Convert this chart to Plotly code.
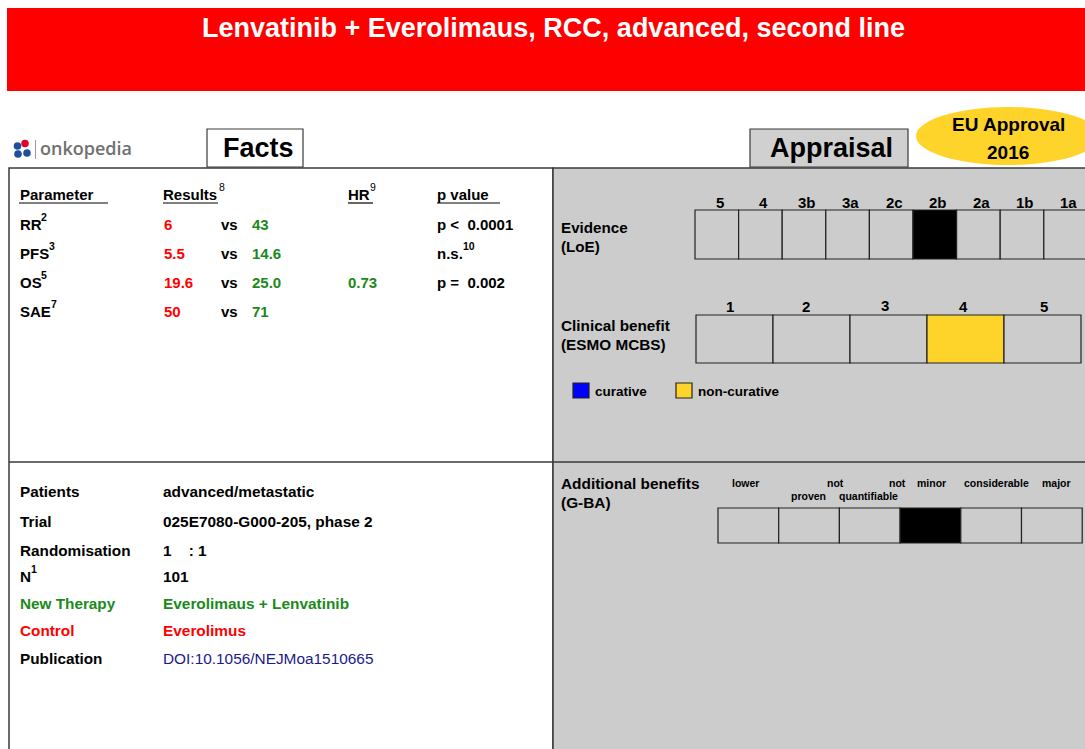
import plotly.graph_objects as go

W, H = 1085, 749
FONT = "Liberation Sans, Arial, sans-serif"

# ---------------- data ----------------
title = "Lenvatinib + Everolimaus, RCC, advanced, second line"
approval = ["EU Approval", "2016"]

fact_headers = ["Parameter", "Results", "HR", "p value"]
fact_header_sup = ["", "8", "9", ""]
params = ["RR", "PFS", "OS", "SAE"]
param_sup = ["2", "3", "5", "7"]
control_vals = ["6", "5.5", "19.6", "50"]
new_vals = ["43", "14.6", "25.0", "71"]
hr_vals = ["", "", "0.73", ""]
p_vals = ["p <  0.0001", "n.s.", "p =  0.002", ""]
p_sup = ["", "10", "", ""]

info_labels = ["Patients", "Trial", "Randomisation", "N", "New Therapy", "Control", "Publication"]
info_label_sup = ["", "", "", "1", "", "", ""]
info_values = ["advanced/metastatic", "025E7080-G000-205, phase 2", "1    : 1", "101",
               "Everolimaus + Lenvatinib", "Everolimus", "DOI:10.1056/NEJMoa1510665"]
info_kind = ["plain", "plain", "plain", "plain", "new", "control", "link"]

loe_levels = ["5", "4", "3b", "3a", "2c", "2b", "2a", "1b", "1a"]
loe_selected = "2b"
esmo_levels = ["1", "2", "3", "4", "5"]
esmo_selected = "4"
esmo_legend = ["curative", "non-curative"]
gba_line1 = ["lower", "not", "not", "minor", "considerable", "major"]
gba_line2 = ["", "proven", "quantifiable", "", "", ""]
gba_selected = "minor"

# ---------------- styles ----------------
RED = "#ff0000"
GREEN = "#1a8a1a"
NAVY = "#1a1a8c"
GRAY = "#cccccc"
YELLOW = "#ffd42a"
BLUE = "#0000ff"
LINE = "#3a3a3a"
DX = -2  # compensation for annotation padding on left-anchored texts

fig = go.Figure()
shapes = []
ann = []


def text(x, y, t, size=15, color="black", bold=True, anchor="left", family=FONT, weight=None):
    f = dict(family=family, size=size, color=color)
    if weight is not None:
        f["weight"] = weight
    ann.append(dict(x=x + (DX if anchor == "left" else 0), y=y, xref="x", yref="y",
                    text=("<b>%s</b>" % t) if bold else t,
                    showarrow=False, xanchor=anchor, yanchor="middle", font=f))


def rect(x0, y0, x1, y1, fill, line=LINE, lw=1.2, layer="below"):
    shapes.append(dict(type="rect", xref="x", yref="y", x0=x0, y0=y0, x1=x1, y1=y1,
                       fillcolor=fill, line=dict(color=line, width=lw), layer=layer))


def hline(x0, x1, y, color=LINE, lw=1.5):
    shapes.append(dict(type="line", xref="x", yref="y", x0=x0, x1=x1, y0=y, y1=y,
                       line=dict(color=color, width=lw)))


def vline(x, y0, y1, color=LINE, lw=1.5):
    shapes.append(dict(type="line", xref="x", yref="y", x0=x, x1=x, y0=y0, y1=y1,
                       line=dict(color=color, width=lw)))


# banner
rect(7, 8, W + 5, 91, RED, line=RED, lw=0)
text(553, 28, title, size=27, color="white", anchor="center")

# panels
rect(9, 168, 553, H + 5, "white", line=LINE, lw=1.5)
rect(553, 168, W + 5, H + 5, GRAY, line=LINE, lw=1.5)
hline(9, W + 5, 462)

# Facts / Appraisal tabs
rect(207, 129, 303, 167, "white", lw=1.2)
text(258, 148, "Facts", size=27, anchor="center")
rect(750, 129, 908, 167, "#d0d0d0", lw=1.2)
text(831, 148, "Appraisal", size=27, anchor="center")

# approval ellipse
shapes.append(dict(type="circle", xref="x", yref="y", x0=916, x1=1100, y0=107, y1=165,
                   fillcolor=YELLOW, line=dict(width=0)))
text(1008, 124, approval[0], size=19, anchor="center")
text(1008, 152, approval[1], size=19, anchor="center")

# onkopedia logo
for (cx, cy, c) in [(17.5, 146, "#1f4e9c"), (25, 143.5, "#e4002b"), (18, 154, "#1f4e9c"), (27, 153, "#1f4e9c")]:
    shapes.append(dict(type="circle", xref="x", yref="y", x0=cx - 3.8, x1=cx + 3.8, y0=cy - 3.8, y1=cy + 3.8,
                       fillcolor=c, line=dict(width=0)))
vline(35.5, 140, 159, color="#9a9a9a", lw=1)
text(40, 148, "onkopedia", size=18, color="#707070", bold=False,
     family="Open Sans, sans-serif", weight=600)

# ---------------- facts table ----------------
hx = [20, 163, 348, 437]
ul = [(19, 108), (163, 218), (348, 373), (437, 500)]
hsup_x = [None, 219, 370, None]
for i, h in enumerate(fact_headers):
    text(hx[i], 194, h)
    hline(ul[i][0], ul[i][1], 203, color="black", lw=1.2)
    if fact_header_sup[i]:
        text(hsup_x[i], 187, fact_header_sup[i], size=10.5, bold=False)

row_y = [224, 253, 282, 311]
psup_x = [41, 49, 41, 51]
for i, p in enumerate(params):
    y = row_y[i]
    text(20, y, p)
    text(psup_x[i], y - 7, param_sup[i], size=10.5)
    text(164, y, control_vals[i], color=RED)
    text(221, y, "vs")
    text(252, y, new_vals[i], color=GREEN)
    if hr_vals[i]:
        text(348, y, hr_vals[i], color=GREEN)
    if p_vals[i]:
        text(437, y, p_vals[i].replace(" ", "&nbsp;"))
    if p_sup[i]:
        text(463, y - 7, p_sup[i], size=10.5)

# ---------------- trial info ----------------
info_y = [491, 521, 550, 576, 603, 630, 658]
kind_color = {"plain": ("black", "black", True), "new": (GREEN, GREEN, True),
              "control": (RED, RED, True), "link": ("black", NAVY, False)}
for i, lab in enumerate(info_labels):
    lc, vc, vb = kind_color[info_kind[i]]
    text(20, info_y[i], lab, size=15.3, color=lc)
    if info_label_sup[i]:
        text(31, info_y[i] - 7, info_label_sup[i], size=10.5, color=lc)
    text(163, info_y[i], info_values[i].replace(" ", "&nbsp;"), size=15.4, color=vc, bold=vb)

# ---------------- LoE ----------------
text(561, 227, "Evidence", size=15.2)
text(561, 246, "(LoE)", size=15.2)
lx0, lw_ = 695, 43.6
for i, lev in enumerate(loe_levels):
    x0 = lx0 + i * lw_
    rect(x0, 210, x0 + lw_, 259, "black" if lev == loe_selected else GRAY, line="#222222", lw=1.2)
    text(x0 + lw_ / 2 + 3, 202, lev, size=15, anchor="center")

# ---------------- ESMO ----------------
text(561, 325, "Clinical benefit", size=15.3)
text(561, 344, "(ESMO MCBS)", size=15.3)
ex0, ew = 696, 77
esmo_dx = [-4.5, -5.5, -3.5, -2.5, 1.5]
for i, lev in enumerate(esmo_levels):
    x0 = ex0 + i * ew
    rect(x0, 315, x0 + ew, 363, YELLOW if lev == esmo_selected else GRAY, line="#222222", lw=1.2)
    text(x0 + ew / 2 + esmo_dx[i], 306 if i != 2 else 305, lev, size=15, anchor="center")

legend_x = [573, 676]
legend_c = [BLUE, YELLOW]
for i, lab in enumerate(esmo_legend):
    rect(legend_x[i], 383, legend_x[i] + 16, 398, legend_c[i], line="#222222", lw=1.2)
    text(legend_x[i] + 22, 391, lab, size=13.5)

# ---------------- G-BA ----------------
text(561, 483, "Additional benefits", size=15.4)
text(561, 502, "(G-BA)", size=15.4)
gx0, gw = 718, 60.7
gba_l1_x = [745, 835, 897, 931, 996, 1056]
gba_l2_x = [None, 808, 868, None, None, None]
for i, lab in enumerate(gba_line1):
    x0 = gx0 + i * gw
    rect(x0, 508, x0 + gw, 543, "black" if lab == gba_selected else GRAY, line="#222222", lw=1.2)
    text(gba_l1_x[i], 483, lab, size=10.5, anchor="center")
    if gba_line2[i]:
        text(gba_l2_x[i], 496, gba_line2[i], size=10.5, anchor="center")

fig.update_layout(
    width=W, height=H, margin=dict(l=0, r=0, t=0, b=0),
    paper_bgcolor="white", plot_bgcolor="white",
    xaxis=dict(range=[0, W], visible=False, fixedrange=True),
    yaxis=dict(range=[H, 0], visible=False, fixedrange=True),
    shapes=shapes, annotations=ann, showlegend=False,
)

fig.write_html("out.html", config={"displayModeBar": False},
               post_script="document.body.style.margin='0';document.body.style.overflow='hidden';")
